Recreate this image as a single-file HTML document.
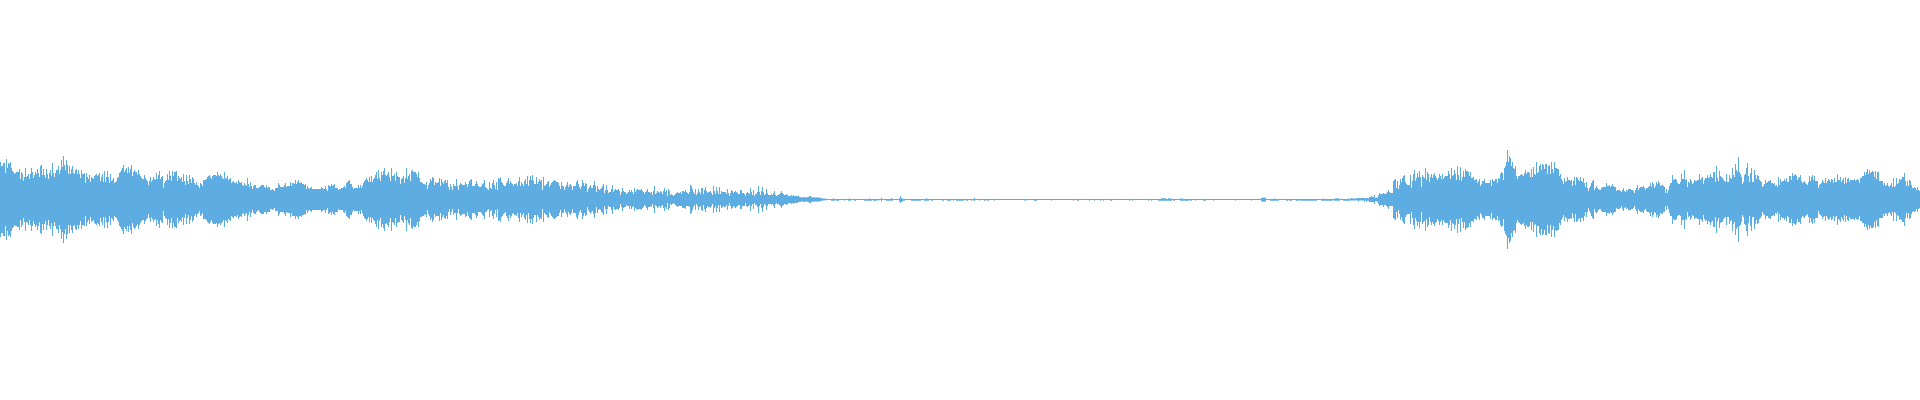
<!DOCTYPE html>
<html><head><meta charset="utf-8"><title>waveform</title>
<style>html,body{margin:0;padding:0;background:#fff;overflow:hidden;font-family:"Liberation Sans",sans-serif}svg{display:block}</style>
</head><body>
<svg width="1920" height="400" viewBox="0 0 1920 400"><rect width="1920" height="400" fill="#ffffff"/><path fill="#5DADE2" d="M0 162h1V237h-1zM1 166h1V233h-1zM2 166h1V233h-1zM3 163h1V236h-1zM4 163h1V236h-1zM5 173h1V226h-1zM6 159h1V240h-1zM7 168h1V231h-1zM8 163h1V236h-1zM9 164h1V235h-1zM10 162h1V237h-1zM11 168h1V231h-1zM12 171h1V228h-1zM13 172h1V227h-1zM14 174h1V225h-1zM15 173h1V226h-1zM16 172h1V226h-1zM17 172h1V227h-1zM18 172h1V227h-1zM19 169h1V230h-1zM20 179h1V220h-1zM21 172h1V227h-1zM22 174h1V225h-1zM23 181h1V218h-1zM24 177h1V222h-1zM25 168h1V231h-1zM26 177h1V222h-1zM27 176h1V223h-1zM28 174h1V225h-1zM29 179h1V220h-1zM30 174h1V225h-1zM31 168h1V231h-1zM32 172h1V226h-1zM33 178h1V221h-1zM34 175h1V224h-1zM35 172h1V227h-1zM36 174h1V225h-1zM37 169h1V230h-1zM38 173h1V226h-1zM39 177h1V222h-1zM40 166h1V233h-1zM41 165h1V234h-1zM42 175h1V224h-1zM43 169h1V230h-1zM44 175h1V224h-1zM45 178h1V221h-1zM46 169h1V230h-1zM47 174h1V225h-1zM48 179h1V220h-1zM49 173h1V226h-1zM50 170h1V229h-1zM51 176h1V223h-1zM52 163h1V236h-1zM53 173h1V226h-1zM54 177h1V222h-1zM55 173h1V226h-1zM56 170h1V229h-1zM57 170h1V229h-1zM58 166h1V233h-1zM59 174h1V225h-1zM60 170h1V229h-1zM61 160h1V239h-1zM62 167h1V232h-1zM63 156h1V243h-1zM64 165h1V234h-1zM65 170h1V229h-1zM66 160h1V239h-1zM67 165h1V234h-1zM68 174h1V225h-1zM69 166h1V233h-1zM70 174h1V225h-1zM71 169h1V230h-1zM72 166h1V233h-1zM73 173h1V226h-1zM74 174h1V225h-1zM75 170h1V229h-1zM76 169h1V230h-1zM77 174h1V225h-1zM78 170h1V229h-1zM79 174h1V225h-1zM80 178h1V221h-1zM81 170h1V229h-1zM82 174h1V225h-1zM83 174h1V225h-1zM84 173h1V226h-1zM85 183h1V216h-1zM86 173h1V226h-1zM87 177h1V222h-1zM88 179h1V220h-1zM89 175h1V224h-1zM90 182h1V217h-1zM91 177h1V222h-1zM92 178h1V221h-1zM93 179h1V220h-1zM94 176h1V223h-1zM95 175h1V224h-1zM96 174h1V225h-1zM97 176h1V223h-1zM98 175h1V224h-1zM99 173h1V226h-1zM100 181h1V218h-1zM101 177h1V222h-1zM102 174h1V225h-1zM103 182h1V217h-1zM104 171h1V228h-1zM105 182h1V217h-1zM106 177h1V222h-1zM107 171h1V228h-1zM108 177h1V222h-1zM109 183h1V216h-1zM110 174h1V225h-1zM111 181h1V218h-1zM112 180h1V219h-1zM113 178h1V221h-1zM114 183h1V216h-1zM115 182h1V217h-1zM116 181h1V218h-1zM117 178h1V220h-1zM118 177h1V222h-1zM119 173h1V226h-1zM120 172h1V227h-1zM121 170h1V229h-1zM122 168h1V231h-1zM123 165h1V234h-1zM124 172h1V227h-1zM125 170h1V229h-1zM126 168h1V231h-1zM127 173h1V226h-1zM128 167h1V232h-1zM129 173h1V226h-1zM130 169h1V230h-1zM131 165h1V234h-1zM132 176h1V223h-1zM133 172h1V227h-1zM134 170h1V229h-1zM135 172h1V228h-1zM136 172h1V226h-1zM137 175h1V224h-1zM138 170h1V229h-1zM139 174h1V225h-1zM140 176h1V223h-1zM141 178h1V221h-1zM142 179h1V220h-1zM143 179h1V220h-1zM144 175h1V224h-1zM145 178h1V221h-1zM146 180h1V219h-1zM147 181h1V218h-1zM148 185h1V214h-1zM149 181h1V218h-1zM150 177h1V222h-1zM151 182h1V217h-1zM152 180h1V219h-1zM153 177h1V222h-1zM154 179h1V220h-1zM155 180h1V219h-1zM156 173h1V226h-1zM157 179h1V220h-1zM158 175h1V224h-1zM159 171h1V228h-1zM160 179h1V220h-1zM161 177h1V222h-1zM162 176h1V223h-1zM163 188h1V211h-1zM164 183h1V216h-1zM165 181h1V218h-1zM166 180h1V219h-1zM167 174h1V225h-1zM168 180h1V219h-1zM169 171h1V228h-1zM170 176h1V223h-1zM171 181h1V218h-1zM172 171h1V228h-1zM173 176h1V223h-1zM174 172h1V227h-1zM175 172h1V227h-1zM176 171h1V228h-1zM177 181h1V218h-1zM178 176h1V223h-1zM179 178h1V221h-1zM180 179h1V220h-1zM181 177h1V222h-1zM182 182h1V217h-1zM183 174h1V225h-1zM184 181h1V218h-1zM185 185h1V214h-1zM186 175h1V224h-1zM187 181h1V218h-1zM188 184h1V215h-1zM189 175h1V224h-1zM190 179h1V220h-1zM191 183h1V216h-1zM192 177h1V222h-1zM193 179h1V220h-1zM194 183h1V216h-1zM195 185h1V214h-1zM196 182h1V217h-1zM197 185h1V214h-1zM198 186h1V213h-1zM199 188h1V211h-1zM200 183h1V216h-1zM201 184h1V215h-1zM202 186h1V213h-1zM203 180h1V219h-1zM204 180h1V219h-1zM205 180h1V219h-1zM206 179h1V220h-1zM207 177h1V222h-1zM208 176h1V223h-1zM209 175h1V224h-1zM210 177h1V222h-1zM211 179h1V220h-1zM212 176h1V223h-1zM213 175h1V224h-1zM214 175h1V224h-1zM215 175h1V224h-1zM216 176h1V223h-1zM217 172h1V227h-1zM218 175h1V224h-1zM219 176h1V223h-1zM220 174h1V225h-1zM221 176h1V223h-1zM222 178h1V222h-1zM223 179h1V220h-1zM224 172h1V227h-1zM225 179h1V220h-1zM226 178h1V221h-1zM227 176h1V223h-1zM228 180h1V219h-1zM229 179h1V220h-1zM230 178h1V221h-1zM231 183h1V216h-1zM232 182h1V217h-1zM233 181h1V218h-1zM234 183h1V216h-1zM235 183h1V216h-1zM236 182h1V217h-1zM237 184h1V215h-1zM238 180h1V219h-1zM239 182h1V217h-1zM240 183h1V216h-1zM241 182h1V217h-1zM242 185h1V214h-1zM243 186h1V213h-1zM244 183h1V216h-1zM245 185h1V214h-1zM246 186h1V213h-1zM247 178h1V221h-1zM248 184h1V215h-1zM249 187h1V212h-1zM250 182h1V217h-1zM251 186h1V213h-1zM252 189h1V210h-1zM253 186h1V213h-1zM254 185h1V214h-1zM255 185h1V214h-1zM256 188h1V212h-1zM257 188h1V211h-1zM258 188h1V210h-1zM259 187h1V212h-1zM260 186h1V213h-1zM261 185h1V214h-1zM262 185h1V214h-1zM263 185h1V214h-1zM264 187h1V212h-1zM265 188h1V212h-1zM266 185h1V214h-1zM267 188h1V212h-1zM268 187h1V212h-1zM269 187h1V212h-1zM270 190h1V209h-1zM271 190h1V209h-1zM272 189h1V210h-1zM273 190h1V209h-1zM274 191h1V208h-1zM275 188h1V211h-1zM276 188h1V211h-1zM277 188h1V211h-1zM278 183h1V216h-1zM279 185h1V214h-1zM280 187h1V212h-1zM281 187h1V212h-1zM282 187h1V212h-1zM283 187h1V212h-1zM284 185h1V214h-1zM285 183h1V216h-1zM286 187h1V212h-1zM287 186h1V213h-1zM288 186h1V213h-1zM289 186h1V213h-1zM290 182h1V217h-1zM291 186h1V213h-1zM292 183h1V216h-1zM293 183h1V216h-1zM294 184h1V216h-1zM295 180h1V219h-1zM296 184h1V216h-1zM297 182h1V217h-1zM298 180h1V219h-1zM299 183h1V216h-1zM300 183h1V216h-1zM301 182h1V217h-1zM302 184h1V215h-1zM303 184h1V215h-1zM304 185h1V214h-1zM305 184h1V215h-1zM306 189h1V210h-1zM307 186h1V213h-1zM308 188h1V211h-1zM309 189h1V210h-1zM310 188h1V211h-1zM311 187h1V212h-1zM312 189h1V210h-1zM313 189h1V210h-1zM314 189h1V210h-1zM315 189h1V210h-1zM316 189h1V210h-1zM317 189h1V210h-1zM318 189h1V210h-1zM319 189h1V210h-1zM320 189h1V210h-1zM321 187h1V212h-1zM322 188h1V211h-1zM323 189h1V210h-1zM324 189h1V210h-1zM325 186h1V213h-1zM326 189h1V210h-1zM327 191h1V208h-1zM328 185h1V214h-1zM329 186h1V213h-1zM330 186h1V212h-1zM331 184h1V215h-1zM332 186h1V212h-1zM333 185h1V214h-1zM334 184h1V215h-1zM335 188h1V212h-1zM336 188h1V212h-1zM337 188h1V212h-1zM338 190h1V209h-1zM339 189h1V210h-1zM340 189h1V210h-1zM341 188h1V210h-1zM342 188h1V210h-1zM343 187h1V212h-1zM344 186h1V213h-1zM345 188h1V211h-1zM346 183h1V216h-1zM347 182h1V217h-1zM348 181h1V218h-1zM349 180h1V219h-1zM350 184h1V215h-1zM351 184h1V215h-1zM352 187h1V212h-1zM353 189h1V210h-1zM354 188h1V211h-1zM355 188h1V211h-1zM356 188h1V211h-1zM357 188h1V211h-1zM358 185h1V214h-1zM359 188h1V211h-1zM360 185h1V214h-1zM361 188h1V210h-1zM362 186h1V213h-1zM363 183h1V216h-1zM364 181h1V218h-1zM365 180h1V219h-1zM366 178h1V221h-1zM367 180h1V219h-1zM368 182h1V217h-1zM369 177h1V222h-1zM370 182h1V217h-1zM371 176h1V223h-1zM372 182h1V218h-1zM373 179h1V220h-1zM374 178h1V221h-1zM375 175h1V224h-1zM376 172h1V227h-1zM377 179h1V220h-1zM378 170h1V229h-1zM379 178h1V221h-1zM380 181h1V218h-1zM381 172h1V227h-1zM382 175h1V224h-1zM383 171h1V228h-1zM384 168h1V231h-1zM385 175h1V224h-1zM386 176h1V223h-1zM387 174h1V225h-1zM388 172h1V227h-1zM389 177h1V222h-1zM390 181h1V218h-1zM391 168h1V231h-1zM392 176h1V222h-1zM393 176h1V223h-1zM394 174h1V225h-1zM395 181h1V218h-1zM396 172h1V227h-1zM397 176h1V223h-1zM398 177h1V222h-1zM399 177h1V222h-1zM400 184h1V215h-1zM401 179h1V220h-1zM402 178h1V221h-1zM403 176h1V223h-1zM404 183h1V216h-1zM405 178h1V220h-1zM406 168h1V231h-1zM407 179h1V220h-1zM408 176h1V223h-1zM409 174h1V225h-1zM410 181h1V218h-1zM411 171h1V228h-1zM412 170h1V229h-1zM413 172h1V226h-1zM414 172h1V227h-1zM415 172h1V227h-1zM416 174h1V225h-1zM417 177h1V222h-1zM418 172h1V227h-1zM419 178h1V221h-1zM420 182h1V217h-1zM421 182h1V217h-1zM422 183h1V216h-1zM423 184h1V216h-1zM424 184h1V215h-1zM425 185h1V214h-1zM426 182h1V217h-1zM427 189h1V210h-1zM428 185h1V214h-1zM429 183h1V216h-1zM430 179h1V220h-1zM431 181h1V218h-1zM432 177h1V222h-1zM433 178h1V220h-1zM434 185h1V214h-1zM435 182h1V217h-1zM436 183h1V216h-1zM437 183h1V216h-1zM438 182h1V216h-1zM439 178h1V221h-1zM440 186h1V213h-1zM441 179h1V220h-1zM442 182h1V217h-1zM443 184h1V215h-1zM444 181h1V218h-1zM445 180h1V219h-1zM446 183h1V216h-1zM447 180h1V219h-1zM448 187h1V212h-1zM449 190h1V209h-1zM450 184h1V215h-1zM451 187h1V212h-1zM452 190h1V209h-1zM453 184h1V215h-1zM454 186h1V213h-1zM455 186h1V213h-1zM456 179h1V220h-1zM457 186h1V213h-1zM458 190h1V209h-1zM459 185h1V214h-1zM460 183h1V216h-1zM461 184h1V215h-1zM462 185h1V214h-1zM463 185h1V214h-1zM464 185h1V214h-1zM465 182h1V217h-1zM466 184h1V216h-1zM467 187h1V212h-1zM468 184h1V216h-1zM469 181h1V218h-1zM470 180h1V219h-1zM471 179h1V220h-1zM472 186h1V213h-1zM473 186h1V213h-1zM474 186h1V213h-1zM475 184h1V215h-1zM476 181h1V218h-1zM477 184h1V216h-1zM478 186h1V212h-1zM479 187h1V212h-1zM480 187h1V212h-1zM481 186h1V213h-1zM482 184h1V215h-1zM483 183h1V216h-1zM484 180h1V219h-1zM485 187h1V212h-1zM486 188h1V212h-1zM487 189h1V210h-1zM488 190h1V209h-1zM489 182h1V217h-1zM490 188h1V211h-1zM491 189h1V210h-1zM492 183h1V216h-1zM493 180h1V219h-1zM494 185h1V214h-1zM495 189h1V210h-1zM496 182h1V217h-1zM497 190h1V209h-1zM498 178h1V221h-1zM499 179h1V220h-1zM500 177h1V222h-1zM501 182h1V217h-1zM502 183h1V216h-1zM503 185h1V214h-1zM504 186h1V213h-1zM505 186h1V212h-1zM506 183h1V216h-1zM507 181h1V218h-1zM508 178h1V221h-1zM509 184h1V215h-1zM510 181h1V218h-1zM511 183h1V216h-1zM512 184h1V214h-1zM513 186h1V213h-1zM514 184h1V215h-1zM515 184h1V215h-1zM516 183h1V216h-1zM517 186h1V213h-1zM518 181h1V218h-1zM519 177h1V222h-1zM520 186h1V213h-1zM521 182h1V217h-1zM522 184h1V215h-1zM523 186h1V213h-1zM524 181h1V218h-1zM525 179h1V220h-1zM526 184h1V215h-1zM527 176h1V223h-1zM528 186h1V213h-1zM529 180h1V219h-1zM530 176h1V223h-1zM531 180h1V219h-1zM532 175h1V224h-1zM533 181h1V218h-1zM534 184h1V215h-1zM535 184h1V215h-1zM536 177h1V222h-1zM537 184h1V215h-1zM538 182h1V217h-1zM539 179h1V220h-1zM540 181h1V218h-1zM541 180h1V219h-1zM542 190h1V209h-1zM543 177h1V222h-1zM544 186h1V213h-1zM545 185h1V214h-1zM546 184h1V215h-1zM547 182h1V217h-1zM548 181h1V218h-1zM549 187h1V212h-1zM550 185h1V214h-1zM551 183h1V216h-1zM552 182h1V217h-1zM553 181h1V218h-1zM554 180h1V219h-1zM555 181h1V218h-1zM556 182h1V217h-1zM557 182h1V216h-1zM558 183h1V216h-1zM559 186h1V213h-1zM560 189h1V210h-1zM561 182h1V217h-1zM562 186h1V213h-1zM563 186h1V213h-1zM564 190h1V209h-1zM565 187h1V212h-1zM566 185h1V214h-1zM567 182h1V217h-1zM568 187h1V212h-1zM569 185h1V214h-1zM570 184h1V215h-1zM571 186h1V213h-1zM572 190h1V209h-1zM573 186h1V213h-1zM574 186h1V213h-1zM575 186h1V213h-1zM576 182h1V217h-1zM577 180h1V219h-1zM578 184h1V215h-1zM579 187h1V212h-1zM580 189h1V210h-1zM581 186h1V213h-1zM582 180h1V219h-1zM583 183h1V216h-1zM584 186h1V213h-1zM585 183h1V216h-1zM586 184h1V215h-1zM587 192h1V207h-1zM588 189h1V210h-1zM589 187h1V212h-1zM590 185h1V214h-1zM591 188h1V212h-1zM592 188h1V211h-1zM593 185h1V214h-1zM594 181h1V218h-1zM595 186h1V213h-1zM596 192h1V207h-1zM597 186h1V213h-1zM598 189h1V210h-1zM599 190h1V209h-1zM600 189h1V210h-1zM601 188h1V212h-1zM602 186h1V213h-1zM603 184h1V215h-1zM604 193h1V206h-1zM605 190h1V209h-1zM606 185h1V214h-1zM607 190h1V209h-1zM608 193h1V206h-1zM609 192h1V207h-1zM610 192h1V207h-1zM611 189h1V210h-1zM612 185h1V214h-1zM613 192h1V207h-1zM614 190h1V209h-1zM615 189h1V210h-1zM616 190h1V209h-1zM617 190h1V209h-1zM618 189h1V210h-1zM619 191h1V208h-1zM620 195h1V204h-1zM621 192h1V207h-1zM622 188h1V211h-1zM623 191h1V208h-1zM624 192h1V207h-1zM625 192h1V207h-1zM626 194h1V205h-1zM627 193h1V206h-1zM628 192h1V206h-1zM629 190h1V209h-1zM630 192h1V206h-1zM631 190h1V209h-1zM632 192h1V207h-1zM633 194h1V206h-1zM634 188h1V211h-1zM635 192h1V208h-1zM636 190h1V209h-1zM637 189h1V210h-1zM638 190h1V209h-1zM639 190h1V209h-1zM640 190h1V209h-1zM641 189h1V210h-1zM642 191h1V208h-1zM643 192h1V207h-1zM644 194h1V205h-1zM645 192h1V206h-1zM646 191h1V208h-1zM647 189h1V210h-1zM648 192h1V207h-1zM649 192h1V207h-1zM650 193h1V206h-1zM651 192h1V207h-1zM652 195h1V204h-1zM653 191h1V208h-1zM654 186h1V213h-1zM655 194h1V205h-1zM656 193h1V206h-1zM657 191h1V208h-1zM658 192h1V207h-1zM659 193h1V206h-1zM660 191h1V208h-1zM661 192h1V206h-1zM662 194h1V205h-1zM663 191h1V208h-1zM664 188h1V211h-1zM665 192h1V207h-1zM666 190h1V209h-1zM667 196h1V203h-1zM668 189h1V210h-1zM669 191h1V208h-1zM670 195h1V204h-1zM671 194h1V205h-1zM672 195h1V204h-1zM673 196h1V203h-1zM674 195h1V204h-1zM675 194h1V205h-1zM676 193h1V206h-1zM677 192h1V207h-1zM678 193h1V206h-1zM679 193h1V206h-1zM680 192h1V206h-1zM681 194h1V206h-1zM682 191h1V208h-1zM683 191h1V208h-1zM684 192h1V208h-1zM685 190h1V209h-1zM686 192h1V206h-1zM687 193h1V206h-1zM688 194h1V206h-1zM689 192h1V207h-1zM690 185h1V214h-1zM691 186h1V213h-1zM692 189h1V210h-1zM693 192h1V207h-1zM694 194h1V205h-1zM695 189h1V210h-1zM696 195h1V204h-1zM697 193h1V206h-1zM698 189h1V210h-1zM699 192h1V207h-1zM700 194h1V206h-1zM701 188h1V210h-1zM702 188h1V211h-1zM703 194h1V205h-1zM704 190h1V209h-1zM705 187h1V212h-1zM706 191h1V208h-1zM707 193h1V206h-1zM708 192h1V207h-1zM709 192h1V207h-1zM710 191h1V208h-1zM711 193h1V206h-1zM712 195h1V204h-1zM713 186h1V213h-1zM714 191h1V208h-1zM715 194h1V206h-1zM716 187h1V212h-1zM717 191h1V208h-1zM718 194h1V205h-1zM719 187h1V212h-1zM720 194h1V205h-1zM721 191h1V208h-1zM722 192h1V207h-1zM723 192h1V206h-1zM724 192h1V207h-1zM725 192h1V207h-1zM726 194h1V205h-1zM727 189h1V210h-1zM728 193h1V206h-1zM729 196h1V203h-1zM730 193h1V206h-1zM731 190h1V209h-1zM732 191h1V208h-1zM733 193h1V206h-1zM734 192h1V207h-1zM735 191h1V208h-1zM736 192h1V207h-1zM737 193h1V206h-1zM738 194h1V205h-1zM739 194h1V205h-1zM740 190h1V209h-1zM741 190h1V209h-1zM742 193h1V206h-1zM743 193h1V206h-1zM744 194h1V206h-1zM745 196h1V203h-1zM746 193h1V206h-1zM747 192h1V207h-1zM748 193h1V206h-1zM749 194h1V205h-1zM750 188h1V211h-1zM751 192h1V206h-1zM752 195h1V204h-1zM753 190h1V209h-1zM754 196h1V203h-1zM755 194h1V205h-1zM756 194h1V205h-1zM757 192h1V207h-1zM758 186h1V213h-1zM759 192h1V206h-1zM760 195h1V204h-1zM761 191h1V208h-1zM762 187h1V212h-1zM763 192h1V207h-1zM764 195h1V204h-1zM765 194h1V205h-1zM766 189h1V210h-1zM767 193h1V206h-1zM768 195h1V204h-1zM769 195h1V204h-1zM770 195h1V204h-1zM771 194h1V205h-1zM772 195h1V204h-1zM773 193h1V206h-1zM774 191h1V208h-1zM775 195h1V204h-1zM776 196h1V203h-1zM777 195h1V204h-1zM778 195h1V204h-1zM779 194h1V205h-1zM780 193h1V206h-1zM781 191h1V208h-1zM782 193h1V206h-1zM783 194h1V205h-1zM784 195h1V204h-1zM785 195h1V204h-1zM786 194h1V205h-1zM787 195h1V204h-1zM788 196h1V203h-1zM789 196h1V203h-1zM790 196h1V203h-1zM791 195h1V204h-1zM792 196h1V203h-1zM793 195h1V204h-1zM794 196h1V203h-1zM795 196h1V203h-1zM796 196h1V203h-1zM797 196h1V203h-1zM798 196h1V202h-1zM799 197h1V202h-1zM800 197.25h1V201.75h-1zM801 197.37h1V201.63h-1zM802 197.50h1V201.50h-1zM803 197.23h1V201.77h-1zM804 197h1V202h-1zM805 197.30h1V201.70h-1zM806 197.50h1V201.50h-1zM807 197.17h1V201.83h-1zM808 197h1V202h-1zM809 196h1V203h-1zM810 196h1V203h-1zM811 197h1V202h-1zM812 197.50h1V201.50h-1zM813 197.37h1V201.63h-1zM814 197.25h1V201.75h-1zM815 197.40h1V201.60h-1zM816 197.50h1V201.50h-1zM817 197.33h1V201.67h-1zM818 197.25h1V201.75h-1zM819 197.80h1V201.20h-1zM820 198h1V201h-1zM821 198.25h1V200.75h-1zM822 198.33h1V200.67h-1zM823 198.50h1V200.50h-1zM824 198.59h1V200.41h-1zM825 198.71h1V200.29h-1zM826 198.82h1V200.18h-1zM827 198.94h1V200.06h-1zM828 199h1V200h-1zM829 199h1V200h-1zM830 199h1V200h-1zM831 199h1V200.75h-1zM832 199h1V200.75h-1zM833 198.20h1V200.75h-1zM834 199h1V200.75h-1zM835 199h1V200h-1zM836 199h1V200.75h-1zM837 199h1V200.75h-1zM838 199h1V200.75h-1zM839 199h1V200h-1zM840 199h1V200h-1zM841 199h1V200h-1zM842 199h1V200h-1zM843 199h1V200h-1zM844 199h1V200.75h-1zM845 199h1V200h-1zM846 199h1V200h-1zM847 199h1V200h-1zM848 199h1V200.75h-1zM849 198.20h1V200.75h-1zM850 199h1V200.75h-1zM851 199h1V200h-1zM852 199h1V200h-1zM853 199h1V200h-1zM854 199h1V200.75h-1zM855 199h1V200.75h-1zM856 199h1V200h-1zM857 199h1V200h-1zM858 199h1V200h-1zM859 199h1V200h-1zM860 199h1V200h-1zM861 199h1V200h-1zM862 199h1V200h-1zM863 199h1V200h-1zM864 199h1V200.75h-1zM865 199h1V200.75h-1zM866 199h1V200.75h-1zM867 199h1V200.75h-1zM868 199h1V200.75h-1zM869 198.20h1V200.75h-1zM870 199h1V200.75h-1zM871 199h1V200.75h-1zM872 199h1V200h-1zM873 199h1V200.75h-1zM874 199h1V200.75h-1zM875 199h1V200.75h-1zM876 199h1V200.75h-1zM877 199h1V200h-1zM878 199h1V200.75h-1zM879 199h1V200h-1zM880 199h1V200h-1zM881 197.80h1V201.50h-1zM882 199h1V200h-1zM883 199h1V200h-1zM884 199h1V200h-1zM885 199h1V200h-1zM886 199h1V200.75h-1zM887 199h1V200.75h-1zM888 199h1V200.75h-1zM889 199h1V200.75h-1zM890 199h1V200.75h-1zM891 198h1V200.75h-1zM892 199h1V200.75h-1zM893 199h1V200h-1zM894 199h1V200h-1zM895 199h1V200h-1zM896 199h1V200h-1zM897 199h1V200h-1zM898 199h1V200h-1zM899 198.20h1V201.60h-1zM900 196h1V203h-1zM901 198h1V202h-1zM902 198.40h1V201.20h-1zM903 199h1V200.75h-1zM904 199h1V200.75h-1zM905 199h1V200h-1zM906 199h1V200h-1zM907 199h1V200h-1zM908 199h1V200h-1zM909 199h1V200h-1zM910 199h1V200h-1zM911 199h1V200.75h-1zM912 199h1V200.75h-1zM913 199h1V200.75h-1zM914 199h1V200.75h-1zM915 199h1V200.75h-1zM916 199h1V200.75h-1zM917 199h1V200.75h-1zM918 199h1V200.75h-1zM919 199h1V200.75h-1zM920 199h1V200.75h-1zM921 199h1V200h-1zM922 199h1V200h-1zM923 199h1V200h-1zM924 199h1V200.75h-1zM925 199h1V200.75h-1zM926 198.20h1V200.75h-1zM927 199h1V200.75h-1zM928 199h1V200.75h-1zM929 199h1V200h-1zM930 199h1V200h-1zM931 199h1V200.75h-1zM932 199h1V200.75h-1zM933 199h1V200h-1zM934 199h1V200h-1zM935 199h1V200h-1zM936 199h1V200h-1zM937 199h1V200h-1zM938 199h1V200h-1zM939 199h1V200h-1zM940 199h1V200h-1zM941 199h1V200h-1zM942 199h1V200.75h-1zM943 199h1V200.75h-1zM944 199h1V200h-1zM945 199h1V200h-1zM946 199h1V200h-1zM947 199h1V200.75h-1zM948 199h1V200.75h-1zM949 199h1V200.75h-1zM950 199h1V200.75h-1zM951 199h1V200h-1zM952 199h1V200h-1zM953 199h1V200.75h-1zM954 199h1V200h-1zM955 199h1V200h-1zM956 199h1V200.75h-1zM957 199h1V200.75h-1zM958 199h1V200.75h-1zM959 199h1V200.75h-1zM960 199h1V200.75h-1zM961 199h1V200.75h-1zM962 199h1V200.75h-1zM963 199h1V200.75h-1zM964 199h1V200h-1zM965 199h1V200h-1zM966 199h1V200.75h-1zM967 199h1V200.75h-1zM968 199h1V200h-1zM969 199h1V200h-1zM970 199h1V200h-1zM971 199h1V200.75h-1zM972 199h1V200h-1zM973 199h1V200.75h-1zM974 198h1V200.75h-1zM975 199h1V200h-1zM976 199h1V200h-1zM977 199h1V200h-1zM978 199h1V200h-1zM979 199h1V200.75h-1zM980 199h1V200h-1zM981 199h1V200h-1zM982 199h1V200h-1zM983 199h1V200h-1zM984 199h1V200.75h-1zM985 199h1V200.75h-1zM986 199h1V200h-1zM987 199h1V200.75h-1zM988 199h1V200.75h-1zM989 199h1V200h-1zM990 199h1V200h-1zM991 199h1V200h-1zM992 199h1V200h-1zM993 199h1V200h-1zM994 199h1V200.75h-1zM995 199h1V200h-1zM996 199h1V200h-1zM997 199h1V200h-1zM998 199h1V200h-1zM999 199h1V200h-1zM1000 199h1V200h-1zM1001 199h1V200h-1zM1002 199h1V200h-1zM1003 199h1V200h-1zM1004 199h1V200h-1zM1005 199h1V200h-1zM1006 199h1V200h-1zM1007 199h1V200h-1zM1008 199h1V200h-1zM1009 199h1V200h-1zM1010 199h1V200h-1zM1011 199h1V200h-1zM1012 199h1V200h-1zM1013 199h1V200h-1zM1014 199h1V200h-1zM1015 199h1V200h-1zM1016 199h1V200h-1zM1017 199h1V200h-1zM1018 199h1V200h-1zM1019 199h1V200h-1zM1020 199h1V200h-1zM1021 199h1V200h-1zM1022 199h1V200h-1zM1023 199h1V200h-1zM1024 199h1V200.75h-1zM1025 199h1V200h-1zM1026 199h1V200.75h-1zM1027 199h1V200h-1zM1028 199h1V200h-1zM1029 199h1V200h-1zM1030 199h1V200h-1zM1031 199h1V200h-1zM1032 199h1V200h-1zM1033 199h1V200h-1zM1034 199h1V200.75h-1zM1035 199h1V200.75h-1zM1036 199h1V200.75h-1zM1037 199h1V200h-1zM1038 199h1V200h-1zM1039 199h1V200h-1zM1040 199h1V200h-1zM1041 199h1V200h-1zM1042 199h1V200h-1zM1043 199h1V200h-1zM1044 199h1V200h-1zM1045 199h1V200h-1zM1046 199h1V200h-1zM1047 199h1V200h-1zM1048 199h1V200h-1zM1049 199h1V200h-1zM1050 199h1V200h-1zM1051 199h1V200.75h-1zM1052 199h1V200h-1zM1053 199h1V200h-1zM1054 199h1V200h-1zM1055 199h1V200h-1zM1056 199h1V200h-1zM1057 199h1V200h-1zM1058 199h1V200h-1zM1059 199h1V200h-1zM1060 199h1V200h-1zM1061 199h1V200h-1zM1062 199h1V200h-1zM1063 199h1V200h-1zM1064 199h1V200h-1zM1065 199h1V200h-1zM1066 199h1V200h-1zM1067 199h1V200h-1zM1068 199h1V200h-1zM1069 199h1V200h-1zM1070 199h1V200h-1zM1071 199h1V200h-1zM1072 199h1V200h-1zM1073 199h1V200.75h-1zM1074 199h1V200h-1zM1075 199h1V200h-1zM1076 199h1V200h-1zM1077 199h1V200.75h-1zM1078 199h1V200.75h-1zM1079 199h1V200h-1zM1080 199h1V200h-1zM1081 199h1V200h-1zM1082 199h1V200h-1zM1083 199h1V200h-1zM1084 199h1V200h-1zM1085 199h1V200h-1zM1086 199h1V200h-1zM1087 199h1V200h-1zM1088 199h1V200h-1zM1089 199h1V200.75h-1zM1090 199h1V200h-1zM1091 199h1V200h-1zM1092 199h1V200h-1zM1093 199h1V200h-1zM1094 199h1V200.75h-1zM1095 199h1V200h-1zM1096 199h1V200h-1zM1097 199h1V200h-1zM1098 199h1V200h-1zM1099 199h1V200h-1zM1100 199h1V200.75h-1zM1101 199h1V200h-1zM1102 199h1V200h-1zM1103 199h1V200.75h-1zM1104 199h1V200h-1zM1105 199h1V200h-1zM1106 199h1V200h-1zM1107 199h1V200h-1zM1108 199h1V200h-1zM1109 199h1V200h-1zM1110 199h1V200.75h-1zM1111 199h1V200.75h-1zM1112 199h1V200h-1zM1113 199h1V200h-1zM1114 199h1V200h-1zM1115 199h1V200h-1zM1116 199h1V200h-1zM1117 199h1V200h-1zM1118 199h1V200h-1zM1119 199h1V200h-1zM1120 199h1V200h-1zM1121 199h1V200h-1zM1122 199h1V200h-1zM1123 199h1V200h-1zM1124 199h1V200h-1zM1125 199h1V200h-1zM1126 199h1V200h-1zM1127 199h1V200h-1zM1128 199h1V200h-1zM1129 199h1V200.75h-1zM1130 199h1V200h-1zM1131 199h1V200h-1zM1132 199h1V200.75h-1zM1133 199h1V200h-1zM1134 199h1V200h-1zM1135 199h1V200h-1zM1136 199h1V200h-1zM1137 199h1V200h-1zM1138 199h1V200h-1zM1139 199h1V200h-1zM1140 199h1V200h-1zM1141 199h1V200h-1zM1142 199h1V200h-1zM1143 199h1V200h-1zM1144 199h1V200h-1zM1145 199h1V200h-1zM1146 199h1V200h-1zM1147 199h1V200h-1zM1148 199h1V200.75h-1zM1149 199h1V200h-1zM1150 199h1V200h-1zM1151 199h1V200.75h-1zM1152 199h1V200h-1zM1153 199h1V200h-1zM1154 199h1V200h-1zM1155 199h1V200h-1zM1156 199h1V200h-1zM1157 199h1V200h-1zM1158 199h1V200.75h-1zM1159 199h1V200.75h-1zM1160 199h1V200.75h-1zM1161 198.30h1V200.75h-1zM1162 198.30h1V200.75h-1zM1163 198.30h1V200.75h-1zM1164 198.30h1V200.75h-1zM1165 198.30h1V200.75h-1zM1166 199h1V200.75h-1zM1167 199h1V200.75h-1zM1168 198.30h1V200.75h-1zM1169 198.30h1V200.75h-1zM1170 198.30h1V200.75h-1zM1171 199h1V200.75h-1zM1172 199h1V200h-1zM1173 199h1V200.75h-1zM1174 199h1V200.75h-1zM1175 199h1V200h-1zM1176 199h1V200h-1zM1177 199h1V200h-1zM1178 199h1V200h-1zM1179 199h1V200h-1zM1180 198.20h1V200.75h-1zM1181 199h1V200.75h-1zM1182 198.40h1V200.75h-1zM1183 199h1V200.75h-1zM1184 199h1V200.75h-1zM1185 199h1V200.75h-1zM1186 199h1V200.75h-1zM1187 199h1V200.75h-1zM1188 199h1V200.75h-1zM1189 199h1V200h-1zM1190 199h1V200.75h-1zM1191 199h1V200.75h-1zM1192 199h1V200h-1zM1193 199h1V200h-1zM1194 199h1V200h-1zM1195 199h1V200.75h-1zM1196 199h1V200h-1zM1197 199h1V200h-1zM1198 199h1V200h-1zM1199 199h1V200h-1zM1200 199h1V200h-1zM1201 199h1V200h-1zM1202 199h1V200h-1zM1203 199h1V200.75h-1zM1204 199h1V200.75h-1zM1205 199h1V200.75h-1zM1206 199h1V200h-1zM1207 199h1V200h-1zM1208 199h1V200h-1zM1209 199h1V200h-1zM1210 199h1V200h-1zM1211 199h1V200h-1zM1212 199h1V200h-1zM1213 199h1V200.75h-1zM1214 199h1V200h-1zM1215 199h1V200h-1zM1216 199h1V200h-1zM1217 199h1V200h-1zM1218 199h1V200h-1zM1219 199h1V200h-1zM1220 199h1V200h-1zM1221 199h1V200h-1zM1222 199h1V200h-1zM1223 199h1V200h-1zM1224 199h1V200h-1zM1225 199h1V200h-1zM1226 199h1V200h-1zM1227 199h1V200h-1zM1228 199h1V200h-1zM1229 199h1V200h-1zM1230 199h1V200h-1zM1231 199h1V200h-1zM1232 199h1V200h-1zM1233 199h1V200h-1zM1234 199h1V200h-1zM1235 199h1V200.75h-1zM1236 199h1V200h-1zM1237 199h1V200h-1zM1238 199h1V200h-1zM1239 199h1V200h-1zM1240 199h1V200h-1zM1241 199h1V200h-1zM1242 199h1V200h-1zM1243 199h1V200h-1zM1244 199h1V200h-1zM1245 199h1V200h-1zM1246 199h1V200h-1zM1247 199h1V200h-1zM1248 199h1V200h-1zM1249 199h1V200h-1zM1250 199h1V200h-1zM1251 199h1V200.75h-1zM1252 199h1V200h-1zM1253 199h1V200h-1zM1254 199h1V200h-1zM1255 199h1V200h-1zM1256 199h1V200h-1zM1257 199h1V200h-1zM1258 199h1V200h-1zM1259 199h1V200h-1zM1260 199h1V200h-1zM1261 197.70h1V201.50h-1zM1262 197.70h1V201.50h-1zM1263 197.40h1V201.70h-1zM1264 197.40h1V201.70h-1zM1265 197.70h1V201.50h-1zM1266 199h1V200h-1zM1267 199h1V200h-1zM1268 199h1V200h-1zM1269 199h1V200h-1zM1270 199h1V200.75h-1zM1271 199h1V200.75h-1zM1272 199h1V200.75h-1zM1273 199h1V200.75h-1zM1274 198.30h1V200.75h-1zM1275 199h1V200.75h-1zM1276 199h1V200.75h-1zM1277 199h1V200.75h-1zM1278 199h1V200.75h-1zM1279 199h1V200h-1zM1280 199h1V200h-1zM1281 199h1V200h-1zM1282 199h1V200h-1zM1283 199h1V200h-1zM1284 199h1V200h-1zM1285 199h1V200h-1zM1286 199h1V200.75h-1zM1287 199h1V200.75h-1zM1288 199h1V200h-1zM1289 199h1V200.75h-1zM1290 199h1V200.75h-1zM1291 199h1V200.75h-1zM1292 199h1V200h-1zM1293 199h1V200h-1zM1294 199h1V200h-1zM1295 199h1V200h-1zM1296 199h1V200.75h-1zM1297 199h1V200.75h-1zM1298 199h1V200.75h-1zM1299 199h1V200h-1zM1300 199h1V200.75h-1zM1301 199h1V200.75h-1zM1302 199h1V200.75h-1zM1303 199h1V200.75h-1zM1304 199h1V200.75h-1zM1305 199h1V200.75h-1zM1306 199h1V200.75h-1zM1307 199h1V200.75h-1zM1308 199h1V200.75h-1zM1309 199h1V200.75h-1zM1310 199h1V200.75h-1zM1311 199h1V200.75h-1zM1312 199h1V200.75h-1zM1313 199h1V200.75h-1zM1314 199h1V200.75h-1zM1315 199h1V200.75h-1zM1316 199h1V200.75h-1zM1317 199h1V200h-1zM1318 199h1V200h-1zM1319 199h1V200h-1zM1320 199h1V200h-1zM1321 199h1V200.75h-1zM1322 199h1V200.75h-1zM1323 198.20h1V200.75h-1zM1324 199h1V200.75h-1zM1325 199h1V200.75h-1zM1326 199h1V200.75h-1zM1327 199h1V200.75h-1zM1328 199h1V200.75h-1zM1329 199h1V200.75h-1zM1330 199h1V200.75h-1zM1331 199h1V200.75h-1zM1332 199h1V200.75h-1zM1333 199h1V200h-1zM1334 199h1V200.75h-1zM1335 198.30h1V200.75h-1zM1336 198.30h1V200.75h-1zM1337 198.30h1V200.75h-1zM1338 198.30h1V200.75h-1zM1339 199h1V200.75h-1zM1340 199h1V200h-1zM1341 199h1V200h-1zM1342 199h1V200h-1zM1343 199h1V200.75h-1zM1344 199h1V200.75h-1zM1345 199h1V200.75h-1zM1346 199h1V200.75h-1zM1347 199h1V200.75h-1zM1348 198.40h1V200.75h-1zM1349 199h1V200.75h-1zM1350 198.50h1V200.60h-1zM1351 197.90h1V200.60h-1zM1352 198.20h1V200.60h-1zM1353 198.50h1V200.60h-1zM1354 198.50h1V200.60h-1zM1355 198.50h1V200.60h-1zM1356 198.50h1V200.60h-1zM1357 198.10h1V200.60h-1zM1358 198.10h1V201.65h-1zM1359 198.10h1V200.60h-1zM1360 198.10h1V200.60h-1zM1361 198.10h1V200.60h-1zM1362 198.10h1V200.60h-1zM1363 198.10h1V200.60h-1zM1364 198.10h1V201.65h-1zM1365 198.50h1V200.60h-1zM1366 197.90h1V201.65h-1zM1367 198.10h1V200.70h-1zM1368 198.30h1V200.70h-1zM1369 197h1V202h-1zM1370 197h1V202h-1zM1371 196h1V202h-1zM1372 197h1V202h-1zM1373 197h1V202h-1zM1374 195h1V204h-1zM1375 197.70h1V201.20h-1zM1376 197.40h1V201.60h-1zM1377 197.40h1V201.60h-1zM1378 195h1V204h-1zM1379 193h1V206h-1zM1380 194h1V205h-1zM1381 194h1V205h-1zM1382 194h1V205h-1zM1383 193h1V207h-1zM1384 194h1V205h-1zM1385 194h1V205h-1zM1386 193h1V206h-1zM1387 192h1V207h-1zM1388 190h1V209h-1zM1389 192h1V206h-1zM1390 193h1V206h-1zM1391 193h1V206h-1zM1392 193h1V206h-1zM1393 181h1V218h-1zM1394 180h1V219h-1zM1395 179h1V220h-1zM1396 188h1V212h-1zM1397 181h1V218h-1zM1398 189h1V210h-1zM1399 185h1V214h-1zM1400 179h1V220h-1zM1401 182h1V217h-1zM1402 178h1V221h-1zM1403 176h1V223h-1zM1404 175h1V224h-1zM1405 182h1V217h-1zM1406 184h1V215h-1zM1407 185h1V214h-1zM1408 185h1V214h-1zM1409 185h1V214h-1zM1410 175h1V224h-1zM1411 188h1V212h-1zM1412 181h1V218h-1zM1413 174h1V225h-1zM1414 170h1V229h-1zM1415 181h1V218h-1zM1416 178h1V221h-1zM1417 173h1V226h-1zM1418 177h1V222h-1zM1419 171h1V228h-1zM1420 177h1V222h-1zM1421 187h1V212h-1zM1422 175h1V224h-1zM1423 177h1V222h-1zM1424 178h1V221h-1zM1425 168h1V231h-1zM1426 180h1V219h-1zM1427 172h1V227h-1zM1428 174h1V225h-1zM1429 182h1V217h-1zM1430 177h1V222h-1zM1431 174h1V225h-1zM1432 178h1V222h-1zM1433 175h1V224h-1zM1434 173h1V226h-1zM1435 176h1V223h-1zM1436 178h1V222h-1zM1437 180h1V219h-1zM1438 178h1V221h-1zM1439 174h1V225h-1zM1440 176h1V222h-1zM1441 179h1V220h-1zM1442 174h1V225h-1zM1443 179h1V220h-1zM1444 177h1V222h-1zM1445 176h1V223h-1zM1446 176h1V223h-1zM1447 176h1V223h-1zM1448 171h1V228h-1zM1449 174h1V225h-1zM1450 179h1V220h-1zM1451 168h1V231h-1zM1452 176h1V223h-1zM1453 175h1V224h-1zM1454 170h1V229h-1zM1455 174h1V225h-1zM1456 180h1V219h-1zM1457 166h1V233h-1zM1458 175h1V224h-1zM1459 180h1V219h-1zM1460 167h1V232h-1zM1461 181h1V218h-1zM1462 177h1V222h-1zM1463 171h1V228h-1zM1464 177h1V222h-1zM1465 169h1V230h-1zM1466 171h1V228h-1zM1467 171h1V228h-1zM1468 172h1V227h-1zM1469 176h1V223h-1zM1470 172h1V227h-1zM1471 178h1V221h-1zM1472 178h1V221h-1zM1473 177h1V222h-1zM1474 180h1V219h-1zM1475 180h1V219h-1zM1476 179h1V220h-1zM1477 183h1V216h-1zM1478 181h1V218h-1zM1479 179h1V220h-1zM1480 186h1V213h-1zM1481 184h1V215h-1zM1482 181h1V218h-1zM1483 181h1V218h-1zM1484 179h1V220h-1zM1485 183h1V216h-1zM1486 183h1V216h-1zM1487 183h1V216h-1zM1488 183h1V216h-1zM1489 183h1V216h-1zM1490 180h1V219h-1zM1491 186h1V213h-1zM1492 179h1V220h-1zM1493 181h1V218h-1zM1494 181h1V218h-1zM1495 179h1V220h-1zM1496 179h1V220h-1zM1497 183h1V216h-1zM1498 178h1V221h-1zM1499 179h1V220h-1zM1500 174h1V225h-1zM1501 172h1V227h-1zM1502 173h1V226h-1zM1503 180h1V219h-1zM1504 168h1V231h-1zM1505 166h1V234h-1zM1506 162h1V236h-1zM1507 150h1V249h-1zM1508 162h1V238h-1zM1509 156h1V243h-1zM1510 158h1V241h-1zM1511 166h1V233h-1zM1512 162h1V237h-1zM1513 168h1V231h-1zM1514 169h1V230h-1zM1515 166h1V233h-1zM1516 176h1V223h-1zM1517 179h1V220h-1zM1518 176h1V222h-1zM1519 176h1V223h-1zM1520 175h1V224h-1zM1521 174h1V225h-1zM1522 175h1V224h-1zM1523 176h1V223h-1zM1524 173h1V226h-1zM1525 170h1V229h-1zM1526 174h1V225h-1zM1527 172h1V227h-1zM1528 172h1V227h-1zM1529 173h1V226h-1zM1530 177h1V222h-1zM1531 169h1V230h-1zM1532 177h1V222h-1zM1533 167h1V232h-1zM1534 174h1V225h-1zM1535 175h1V224h-1zM1536 162h1V237h-1zM1537 173h1V226h-1zM1538 172h1V226h-1zM1539 166h1V233h-1zM1540 164h1V235h-1zM1541 170h1V229h-1zM1542 164h1V235h-1zM1543 165h1V234h-1zM1544 169h1V230h-1zM1545 164h1V235h-1zM1546 164h1V235h-1zM1547 174h1V225h-1zM1548 166h1V233h-1zM1549 165h1V234h-1zM1550 174h1V225h-1zM1551 162h1V237h-1zM1552 169h1V230h-1zM1553 173h1V226h-1zM1554 162h1V237h-1zM1555 168h1V230h-1zM1556 168h1V231h-1zM1557 169h1V230h-1zM1558 169h1V230h-1zM1559 176h1V223h-1zM1560 174h1V225h-1zM1561 179h1V220h-1zM1562 181h1V218h-1zM1563 184h1V215h-1zM1564 178h1V221h-1zM1565 182h1V217h-1zM1566 181h1V218h-1zM1567 177h1V222h-1zM1568 180h1V219h-1zM1569 180h1V219h-1zM1570 181h1V218h-1zM1571 180h1V219h-1zM1572 186h1V213h-1zM1573 181h1V218h-1zM1574 177h1V222h-1zM1575 185h1V214h-1zM1576 177h1V222h-1zM1577 178h1V221h-1zM1578 180h1V219h-1zM1579 181h1V218h-1zM1580 177h1V222h-1zM1581 181h1V218h-1zM1582 182h1V218h-1zM1583 178h1V221h-1zM1584 183h1V216h-1zM1585 187h1V212h-1zM1586 182h1V217h-1zM1587 188h1V212h-1zM1588 191h1V208h-1zM1589 188h1V211h-1zM1590 186h1V213h-1zM1591 183h1V216h-1zM1592 181h1V218h-1zM1593 180h1V219h-1zM1594 190h1V209h-1zM1595 188h1V212h-1zM1596 186h1V213h-1zM1597 188h1V212h-1zM1598 189h1V210h-1zM1599 190h1V209h-1zM1600 190h1V209h-1zM1601 188h1V211h-1zM1602 187h1V212h-1zM1603 187h1V212h-1zM1604 187h1V212h-1zM1605 187h1V212h-1zM1606 183h1V216h-1zM1607 186h1V213h-1zM1608 186h1V213h-1zM1609 185h1V214h-1zM1610 187h1V212h-1zM1611 186h1V213h-1zM1612 184h1V215h-1zM1613 186h1V213h-1zM1614 187h1V212h-1zM1615 187h1V212h-1zM1616 191h1V208h-1zM1617 190h1V209h-1zM1618 190h1V209h-1zM1619 190h1V209h-1zM1620 191h1V208h-1zM1621 192h1V206h-1zM1622 190h1V209h-1zM1623 188h1V211h-1zM1624 191h1V208h-1zM1625 192h1V207h-1zM1626 190h1V209h-1zM1627 191h1V208h-1zM1628 189h1V210h-1zM1629 189h1V210h-1zM1630 189h1V210h-1zM1631 190h1V209h-1zM1632 190h1V209h-1zM1633 191h1V208h-1zM1634 193h1V206h-1zM1635 190h1V209h-1zM1636 188h1V211h-1zM1637 185h1V214h-1zM1638 190h1V209h-1zM1639 188h1V211h-1zM1640 187h1V212h-1zM1641 187h1V212h-1zM1642 187h1V212h-1zM1643 186h1V213h-1zM1644 188h1V210h-1zM1645 190h1V209h-1zM1646 188h1V211h-1zM1647 188h1V212h-1zM1648 187h1V212h-1zM1649 186h1V213h-1zM1650 183h1V216h-1zM1651 187h1V212h-1zM1652 182h1V217h-1zM1653 184h1V215h-1zM1654 188h1V212h-1zM1655 186h1V213h-1zM1656 182h1V217h-1zM1657 184h1V215h-1zM1658 181h1V218h-1zM1659 183h1V216h-1zM1660 186h1V213h-1zM1661 185h1V214h-1zM1662 185h1V214h-1zM1663 186h1V212h-1zM1664 187h1V212h-1zM1665 193h1V206h-1zM1666 189h1V210h-1zM1667 193h1V206h-1zM1668 190h1V209h-1zM1669 186h1V213h-1zM1670 183h1V216h-1zM1671 183h1V216h-1zM1672 175h1V224h-1zM1673 180h1V219h-1zM1674 179h1V220h-1zM1675 179h1V220h-1zM1676 180h1V219h-1zM1677 183h1V216h-1zM1678 184h1V215h-1zM1679 184h1V215h-1zM1680 182h1V216h-1zM1681 174h1V225h-1zM1682 179h1V220h-1zM1683 179h1V220h-1zM1684 170h1V229h-1zM1685 180h1V219h-1zM1686 179h1V220h-1zM1687 187h1V212h-1zM1688 182h1V217h-1zM1689 183h1V216h-1zM1690 179h1V220h-1zM1691 181h1V218h-1zM1692 184h1V215h-1zM1693 183h1V216h-1zM1694 180h1V219h-1zM1695 181h1V218h-1zM1696 181h1V218h-1zM1697 180h1V219h-1zM1698 180h1V219h-1zM1699 174h1V225h-1zM1700 180h1V219h-1zM1701 178h1V220h-1zM1702 177h1V222h-1zM1703 184h1V215h-1zM1704 180h1V219h-1zM1705 178h1V221h-1zM1706 178h1V220h-1zM1707 175h1V224h-1zM1708 178h1V221h-1zM1709 177h1V222h-1zM1710 174h1V225h-1zM1711 177h1V222h-1zM1712 178h1V221h-1zM1713 172h1V227h-1zM1714 172h1V227h-1zM1715 182h1V217h-1zM1716 166h1V233h-1zM1717 178h1V221h-1zM1718 181h1V218h-1zM1719 171h1V228h-1zM1720 176h1V223h-1zM1721 177h1V222h-1zM1722 178h1V222h-1zM1723 180h1V219h-1zM1724 181h1V218h-1zM1725 182h1V217h-1zM1726 174h1V225h-1zM1727 182h1V217h-1zM1728 182h1V217h-1zM1729 175h1V224h-1zM1730 178h1V221h-1zM1731 179h1V220h-1zM1732 168h1V231h-1zM1733 175h1V224h-1zM1734 177h1V222h-1zM1735 164h1V235h-1zM1736 170h1V229h-1zM1737 172h1V227h-1zM1738 157h1V242h-1zM1739 172h1V226h-1zM1740 174h1V225h-1zM1741 177h1V222h-1zM1742 184h1V215h-1zM1743 182h1V217h-1zM1744 175h1V224h-1zM1745 174h1V225h-1zM1746 168h1V231h-1zM1747 163h1V236h-1zM1748 176h1V223h-1zM1749 182h1V216h-1zM1750 173h1V226h-1zM1751 168h1V231h-1zM1752 182h1V217h-1zM1753 182h1V217h-1zM1754 170h1V229h-1zM1755 175h1V224h-1zM1756 179h1V220h-1zM1757 175h1V224h-1zM1758 176h1V223h-1zM1759 180h1V219h-1zM1760 181h1V218h-1zM1761 182h1V216h-1zM1762 187h1V212h-1zM1763 186h1V214h-1zM1764 184h1V215h-1zM1765 180h1V219h-1zM1766 183h1V216h-1zM1767 182h1V216h-1zM1768 181h1V218h-1zM1769 181h1V218h-1zM1770 180h1V219h-1zM1771 183h1V216h-1zM1772 183h1V216h-1zM1773 184h1V215h-1zM1774 183h1V216h-1zM1775 186h1V213h-1zM1776 185h1V214h-1zM1777 187h1V212h-1zM1778 177h1V222h-1zM1779 185h1V214h-1zM1780 179h1V220h-1zM1781 182h1V217h-1zM1782 181h1V218h-1zM1783 181h1V218h-1zM1784 179h1V220h-1zM1785 181h1V218h-1zM1786 178h1V221h-1zM1787 182h1V216h-1zM1788 182h1V217h-1zM1789 176h1V223h-1zM1790 176h1V223h-1zM1791 180h1V219h-1zM1792 173h1V226h-1zM1793 176h1V223h-1zM1794 175h1V224h-1zM1795 174h1V225h-1zM1796 176h1V223h-1zM1797 180h1V219h-1zM1798 178h1V222h-1zM1799 177h1V222h-1zM1800 175h1V224h-1zM1801 181h1V218h-1zM1802 183h1V216h-1zM1803 182h1V217h-1zM1804 181h1V218h-1zM1805 183h1V216h-1zM1806 184h1V215h-1zM1807 185h1V214h-1zM1808 182h1V217h-1zM1809 176h1V223h-1zM1810 181h1V218h-1zM1811 177h1V222h-1zM1812 175h1V224h-1zM1813 180h1V219h-1zM1814 176h1V223h-1zM1815 181h1V218h-1zM1816 181h1V218h-1zM1817 181h1V218h-1zM1818 188h1V211h-1zM1819 185h1V214h-1zM1820 184h1V215h-1zM1821 183h1V216h-1zM1822 180h1V219h-1zM1823 182h1V217h-1zM1824 183h1V216h-1zM1825 178h1V221h-1zM1826 183h1V216h-1zM1827 181h1V218h-1zM1828 179h1V220h-1zM1829 180h1V219h-1zM1830 182h1V217h-1zM1831 179h1V220h-1zM1832 180h1V219h-1zM1833 183h1V216h-1zM1834 178h1V221h-1zM1835 182h1V217h-1zM1836 182h1V216h-1zM1837 174h1V225h-1zM1838 180h1V219h-1zM1839 180h1V220h-1zM1840 177h1V222h-1zM1841 182h1V217h-1zM1842 180h1V219h-1zM1843 178h1V221h-1zM1844 184h1V215h-1zM1845 177h1V222h-1zM1846 183h1V216h-1zM1847 179h1V220h-1zM1848 178h1V221h-1zM1849 182h1V217h-1zM1850 180h1V219h-1zM1851 180h1V219h-1zM1852 180h1V219h-1zM1853 180h1V219h-1zM1854 179h1V220h-1zM1855 181h1V218h-1zM1856 180h1V219h-1zM1857 179h1V220h-1zM1858 180h1V219h-1zM1859 183h1V216h-1zM1860 178h1V221h-1zM1861 178h1V221h-1zM1862 176h1V223h-1zM1863 176h1V223h-1zM1864 172h1V227h-1zM1865 175h1V224h-1zM1866 172h1V227h-1zM1867 169h1V230h-1zM1868 174h1V225h-1zM1869 170h1V229h-1zM1870 173h1V226h-1zM1871 172h1V228h-1zM1872 171h1V228h-1zM1873 172h1V227h-1zM1874 177h1V222h-1zM1875 171h1V228h-1zM1876 179h1V220h-1zM1877 172h1V226h-1zM1878 172h1V227h-1zM1879 181h1V218h-1zM1880 181h1V218h-1zM1881 181h1V218h-1zM1882 181h1V218h-1zM1883 185h1V214h-1zM1884 183h1V216h-1zM1885 186h1V213h-1zM1886 185h1V214h-1zM1887 183h1V216h-1zM1888 186h1V213h-1zM1889 187h1V212h-1zM1890 185h1V214h-1zM1891 183h1V216h-1zM1892 187h1V212h-1zM1893 178h1V221h-1zM1894 187h1V212h-1zM1895 186h1V213h-1zM1896 178h1V221h-1zM1897 184h1V215h-1zM1898 183h1V216h-1zM1899 179h1V220h-1zM1900 180h1V219h-1zM1901 179h1V220h-1zM1902 177h1V222h-1zM1903 177h1V222h-1zM1904 173h1V226h-1zM1905 181h1V218h-1zM1906 186h1V213h-1zM1907 181h1V218h-1zM1908 186h1V213h-1zM1909 180h1V219h-1zM1910 181h1V218h-1zM1911 185h1V214h-1zM1912 188h1V212h-1zM1913 188h1V211h-1zM1914 187h1V212h-1zM1915 188h1V211h-1zM1916 190h1V209h-1zM1917 187h1V212h-1zM1918 190h1V209h-1zM1919 191h1V208h-1z"/></svg>
</body></html>
